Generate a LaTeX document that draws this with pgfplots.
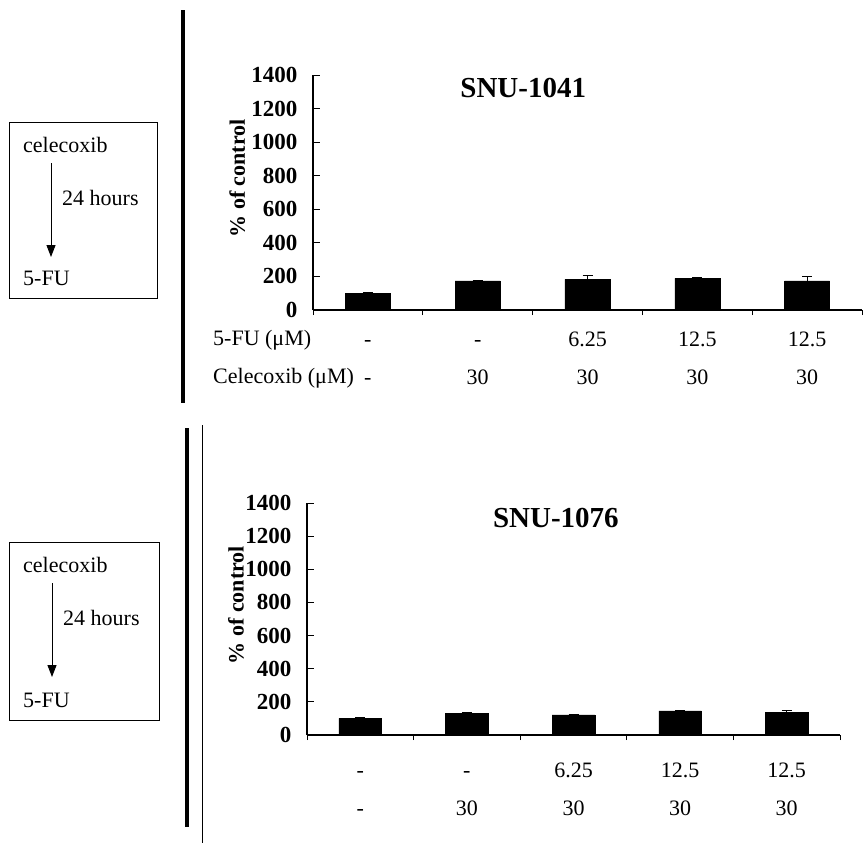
\documentclass[border=0pt]{standalone}
\usepackage{pgfplots}
\pgfplotsset{compat=1.18}
\usepackage{fontspec}
\setmainfont{Liberation Serif}
\usetikzlibrary{arrows.meta}
\newcommand{\fs}{\fontsize{22bp}{25bp}\selectfont}
\newcommand{\sv}{\vphantom{0}}
\pgfplotsset{
  panel/.style={
    scale only axis, anchor=south west,
    axis x line=bottom, axis y line=left,
    axis line style={-, line width=1.2bp, black},
    xmin=-0.5, xmax=4.5, ymin=0, ymax=1400,
    ytick={0,200,...,1400},
    xtick={0,...,4},
    minor xtick={-0.5,0.5,...,4.5},
    tick style={black, line width=1bp},
    major x tick style={draw=none},
    tick align=inside,
    major tick length=7bp, minor tick length=5bp,
    scaled y ticks=false,
    /pgf/number format/assume math mode=true,
    /pgf/number format/1000 sep={},
    yticklabel style={font=\fontsize{23bp}{26bp}\selectfont\bfseries, xshift=-12bp},
    xticklabel style={font=\fontsize{22bp}{38bp}\selectfont, align=center, anchor=north},
    xticklabels={{\sv-\\\sv-},{\sv-\\\sv30},{\sv6.25\\\sv30},{\sv12.5\\\sv30},{\sv12.5\\\sv30}},
    ybar, clip=false,
  },
  barstyle/.style={fill=black, draw=black,
    error bars/y dir=plus, error bars/y explicit,
    error bars/error bar style={line width=1bp, black},
    error bars/error mark options={line width=1bp, black, mark size=5bp, rotate=90}},
}
\begin{document}
\begin{tikzpicture}
\path[use as bounding box] (0,0) rectangle (864bp,-843bp);
% ---- top panel
\draw[line width=1bp] (9bp,-122bp) rectangle (157bp,-298bp);
\node[anchor=west,font=\fs,inner sep=0] at (23bp,-145bp) {celecoxib};
\node[anchor=west,font=\fs,inner sep=0] at (62bp,-198bp) {24 hours};
\node[anchor=west,font=\fs,inner sep=0] at (23bp,-278bp) {5-FU};
\draw[line width=1bp,-{Triangle[width=9bp,length=12bp]}] (51bp,-163bp) -- (51bp,-257bp);
\draw[line width=4bp] (183bp,-10bp) -- (183bp,-403bp);
\node[anchor=west,font=\fs,inner sep=0] at (213bp,-340bp) {5-FU (μM)};
\node[anchor=west,font=\fs,inner sep=0] at (213bp,-378bp) {Celecoxib (μM)};
\begin{axis}[panel, at={(313bp,-310bp)}, width=549bp, height=235bp, bar width=0.41,
  xticklabel style={yshift=-11bp}]
\addplot[barstyle] coordinates {(0,100) +- (0,4) (1,173) +- (0,5) (2,183) +- (0,25) (3,189) +- (0,4) (4,173) +- (0,25)};
\node[font=\fontsize{29bp}{32bp}\selectfont\bfseries] at (rel axis cs:0.383,0.945) {SNU-1041};
\node[font=\fontsize{22bp}{25bp}\selectfont\bfseries, rotate=90] at (rel axis cs:-0.138,0.56) {\% of control};
\end{axis}
% ---- bottom panel
\draw[line width=1bp] (9bp,-542bp) rectangle (159bp,-720bp);
\node[anchor=west,font=\fs,inner sep=0] at (23bp,-565bp) {celecoxib};
\node[anchor=west,font=\fs,inner sep=0] at (63bp,-618bp) {24 hours};
\node[anchor=west,font=\fs,inner sep=0] at (23bp,-700bp) {5-FU};
\draw[line width=1bp,-{Triangle[width=9bp,length=12bp]}] (52bp,-583bp) -- (52bp,-677bp);
\draw[line width=4bp] (187bp,-428bp) -- (187bp,-827bp);
\draw[line width=1bp] (202bp,-425bp) -- (202bp,-843bp);
\begin{axis}[panel, at={(307bp,-735bp)}, width=533bp, height=232bp, bar width=0.40,
  xticklabel style={yshift=-17bp}]
\addplot[barstyle] coordinates {(0,100) +- (0,4) (1,131) +- (0,2) (2,122) +- (0,2) (3,145) +- (0,2) (4,137) +- (0,8)};
\node[font=\fontsize{29bp}{32bp}\selectfont\bfseries] at (rel axis cs:0.467,0.935) {SNU-1076};
\node[font=\fontsize{22bp}{25bp}\selectfont\bfseries, rotate=90] at (rel axis cs:-0.133,0.56) {\% of control};
\end{axis}
\end{tikzpicture}
\end{document}
